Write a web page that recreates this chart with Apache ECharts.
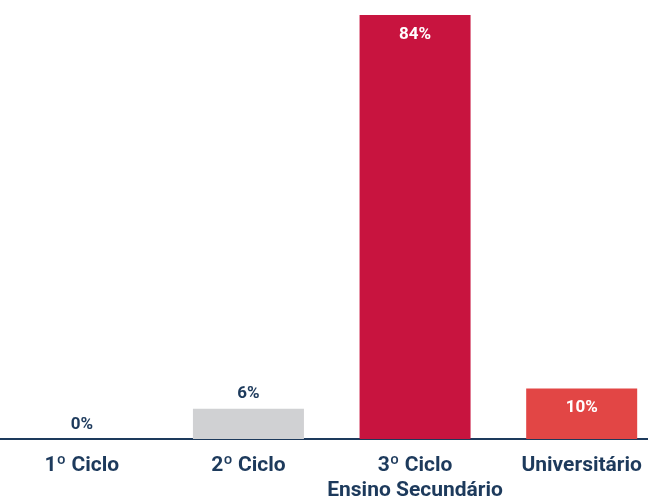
<!DOCTYPE html>
<html>
<head>
<meta charset="utf-8">
<script src="https://cdn.jsdelivr.net/npm/echarts@6/dist/echarts.min.js"></script>
<style>
html,body{margin:0;padding:0;background:#fff;}
#chart{width:648px;height:504px;}
</style>
</head>
<body>
<div id="chart"></div>
<script>
var categories = ['1º Ciclo', '2º Ciclo', '3º Ciclo\nEnsino Secundário', 'Universitário'];
var values = [0, 6, 84, 10];
var barColors = ['#d0d1d3', '#d0d1d3', '#c8143f', '#e24645'];

var FONT = 'Roboto, "Liberation Sans", sans-serif';
var NAVY = '#1d3a5c';

var chart = echarts.init(document.getElementById('chart'), null, {renderer: 'canvas'});

var data = values.map(function (v, i) {
  var big = v >= 10;
  return {
    value: v,
    itemStyle: {color: barColors[i]},
    label: big ? {position: 'insideTop', distance: 11, color: '#ffffff'} : {position: 'top', distance: 6, color: NAVY}
  };
});

chart.setOption({
  animation: false,
  grid: {left: -1.5, right: -17, top: 15, bottom: 65, containLabel: false, outerBoundsMode: 'none'},
  xAxis: {
    type: 'category',
    data: categories,
    axisLine: {show: true, lineStyle: {color: NAVY, width: 2}},
    axisTick: {show: false},
    axisLabel: {
      margin: 14,
      color: NAVY,
      fontFamily: FONT,
      fontWeight: 'bold',
      fontSize: 21,
      lineHeight: 25,
      interval: 0
    }
  },
  yAxis: {
    type: 'value',
    min: 0,
    max: 84,
    show: false,
    splitLine: {show: false}
  },
  series: [{
    type: 'bar',
    data: data,
    barWidth: 111,
    label: {
      show: true,
      fontFamily: FONT,
      fontWeight: 'bold',
      fontSize: 17,
      formatter: function (p) { return p.value + '%'; }
    }
  }]
});
</script>
</body>
</html>
